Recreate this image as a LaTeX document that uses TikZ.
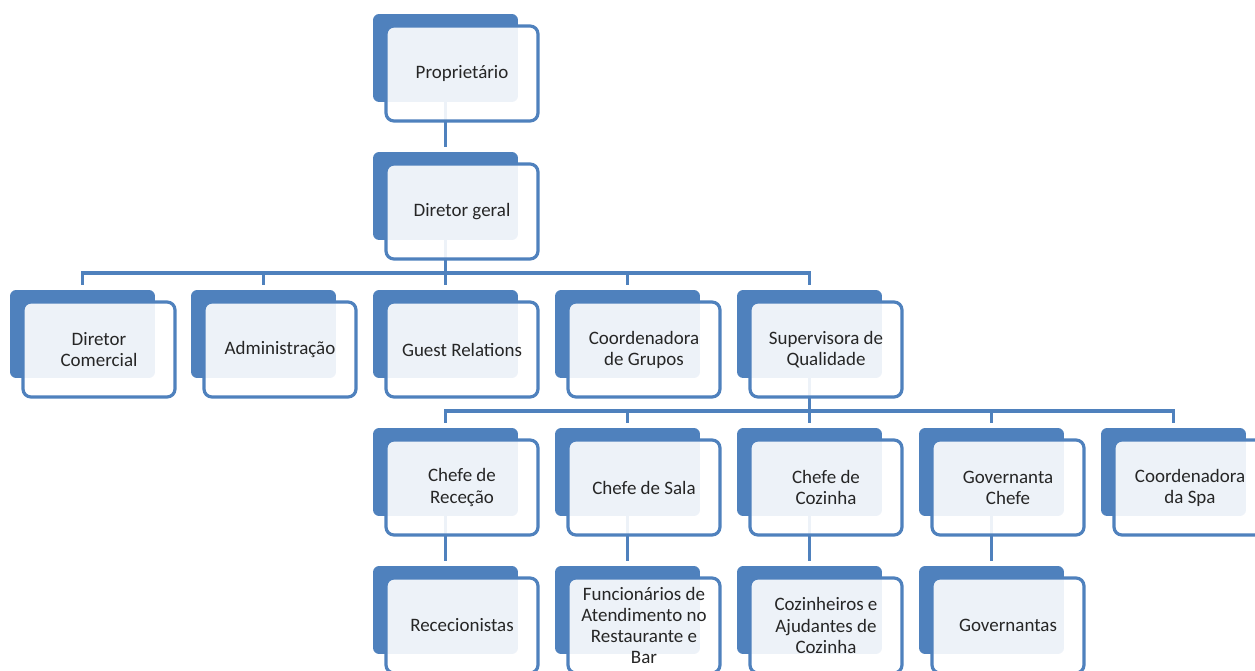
\documentclass[tikz,border=0pt]{standalone}
\usepackage{fontspec}
\setmainfont{Carlito}
\usepackage{tikz}
\usepackage{xcolor}
\usetikzlibrary{calc,backgrounds}
\definecolor{orgBlue}{RGB}{79,129,189}
\definecolor{orgText}{RGB}{38,38,38}

\tikzset{
  backbox/.style={rectangle,rounded corners=3.5pt,fill=orgBlue,draw=none,minimum width=2.9cm,minimum height=1.76cm,inner sep=0pt},
  frontbox/.style={rectangle,rounded corners=4.5pt,fill=white,fill opacity=0.9,text opacity=1,draw=orgBlue,draw opacity=1,line width=1.8pt,minimum width=3.04cm,minimum height=1.9cm,inner sep=0pt,align=center,text=orgText,font=\fontsize{10.8}{12}\selectfont},
  conn/.style={draw=orgBlue,line width=2.2pt,line join=miter,shorten >=0.1cm}
}
\newcommand{\orgbox}[4]{%
  \node[backbox] (#1-b) at ({#2+72.5},{#3+44}) {};
  \node[frontbox] (#1) at ({#2+89},{#3+59.5}) {#4};
}

\begin{document}
\begin{tikzpicture}[x=0.02cm,y=-0.02cm]
\clip (0,0) rectangle (1255,671);
\orgbox{prop}{373}{14}{Proprietário}
\orgbox{dir}{373}{152}{Diretor geral}
\orgbox{dcom}{10}{290}{Diretor\\Comercial}
\orgbox{adm}{191}{290}{Administração}
\orgbox{guest}{373}{290}{Guest Relations}
\orgbox{cgrp}{555}{290}{Coordenadora\\de Grupos}
\orgbox{supq}{737}{290}{Supervisora de\\Qualidade}
\orgbox{crec}{373}{428}{Chefe de\\Receção}
\orgbox{csala}{555}{428}{Chefe de Sala}
\orgbox{ccoz}{737}{428}{Chefe de\\Cozinha}
\orgbox{gov}{919}{428}{Governanta\\Chefe}
\orgbox{cspa}{1101}{428}{Coordenadora\\da Spa}
\orgbox{rec}{373}{566}{Rececionistas}
\orgbox{func}{555}{566}{Funcionários de\\Atendimento no\\Restaurante e\\Bar}
\orgbox{coz}{737}{566}{Cozinheiros e\\Ajudantes de\\Cozinha}
\orgbox{govs}{919}{566}{Governantas}
\coordinate (busA) at (0,273);
\coordinate (busB) at (0,411);
\begin{pgfonlayer}{background}
\draw[conn] (prop-b.south) -- (dir-b.north);
\foreach \n in {dcom,adm,guest,cgrp,supq}
  \draw[conn] (dir-b.south) |- (\n-b.north |- busA) -- (\n-b.north);
\foreach \n in {crec,csala,ccoz,gov,cspa}
  \draw[conn] (supq-b.south) |- (\n-b.north |- busB) -- (\n-b.north);
\draw[conn] (crec-b.south) -- (rec-b.north);
\draw[conn] (csala-b.south) -- (func-b.north);
\draw[conn] (ccoz-b.south) -- (coz-b.north);
\draw[conn] (gov-b.south) -- (govs-b.north);
\end{pgfonlayer}
\end{tikzpicture}
\end{document}
